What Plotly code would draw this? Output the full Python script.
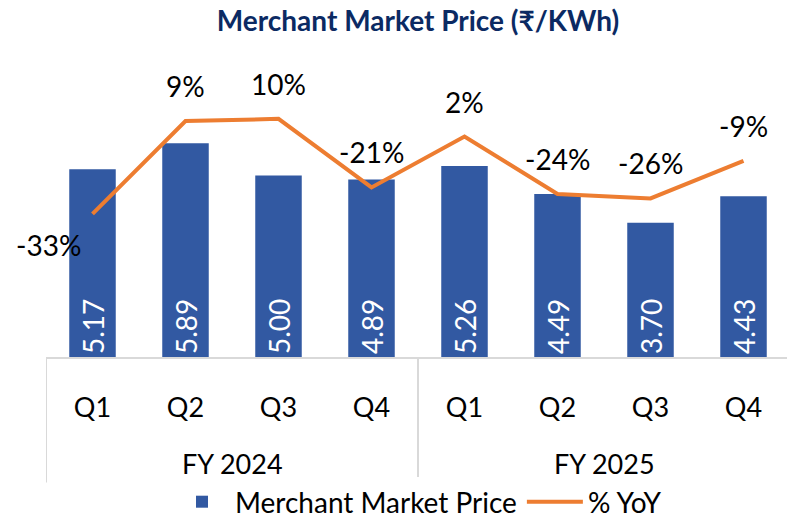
import plotly.graph_objects as go

# Data
fiscal_years = ["FY 2024", "FY 2025"]
quarters = ["Q1", "Q2", "Q3", "Q4", "Q1", "Q2", "Q3", "Q4"]
price = [5.17, 5.89, 5.00, 4.89, 5.26, 4.49, 3.70, 4.43]
yoy = [-0.33, 0.09, 0.10, -0.21, 0.02, -0.24, -0.26, -0.09]

BAR_COLOR = "#3259A2"
LINE_COLOR = "#ED7D31"
AXIS_GREY = "#D9D9D9"
FONT = "Lato, Calibri, Carlito, sans-serif"

pos = list(range(len(quarters)))

fig = go.Figure()

fig.add_trace(
    go.Bar(
        x=pos,
        y=price,
        name="Merchant Market Price",
        marker=dict(color=BAR_COLOR, line=dict(width=0)),
        text=[f"{v:.2f}" for v in price],
        textposition="inside",
        insidetextanchor="start",
        textangle=-90,
        textfont=dict(color="white", size=28, family=FONT),
        width=0.5,
    )
)

fig.add_trace(
    go.Scatter(
        x=pos,
        y=yoy,
        name="% YoY",
        mode="lines",
        line=dict(color=LINE_COLOR, width=4),
        yaxis="y2",
    )
)

# Data labels for the YoY line
for i, v in enumerate(yoy):
    first = i == 0
    fig.add_annotation(
        x=pos[i],
        y=v,
        yref="y2",
        text=f"{v * 100:.0f}%",
        showarrow=False,
        font=dict(size=28, color="black", family=FONT),
        xshift=-44 if first else 0,
        yshift=-31 if first else 35,
    )

# Fiscal year group labels and dividers
for g, fy in enumerate(fiscal_years):
    fig.add_annotation(
        x=g * 4 + 1.5,
        y=-0.345,
        xref="x",
        yref="paper",
        text=fy,
        showarrow=False,
        font=dict(size=27, color="black", family=FONT),
        yanchor="middle",
    )
for edge in [-0.5, 3.5, 7.5]:
    fig.add_shape(
        type="line",
        x0=edge,
        x1=edge,
        xref="x",
        y0=0,
        y1=-0.405,
        yref="paper",
        line=dict(color=AXIS_GREY, width=2),
    )

# page body has an 8px margin, so offsets are shifted to compensate
fig.update_layout(
    title=dict(
        text="<b>Merchant Market Price (₹/KWh)</b>",
        x=0.5,
        xref="paper",
        y=0.975,
        yanchor="middle",
        font=dict(size=28, color="#0B2A63", family=FONT),
    ),
    width=795,
    height=519,
    margin=dict(l=38, r=13, t=39, b=170),
    plot_bgcolor="white",
    paper_bgcolor="white",
    font=dict(family=FONT, size=27, color="black"),
    showlegend=True,
    legend=dict(
        orientation="h",
        x=0.5,
        xanchor="center",
        yref="container",
        y=0.0,
        yanchor="bottom",
        font=dict(size=28),
        itemwidth=56,
        tracegroupgap=0,
    ),
    xaxis=dict(
        range=[-0.5, 7.5],
        tickmode="array",
        tickvals=pos,
        ticktext=quarters,
        showline=True,
        linecolor=AXIS_GREY,
        linewidth=2,
        showgrid=False,
        zeroline=False,
        ticks="",
        ticklabelstandoff=26,
        tickfont=dict(size=27),
        automargin=False,
    ),
    yaxis=dict(range=[0, 8.54], visible=False, showgrid=False),
    yaxis2=dict(
        range=[-0.977, 0.425],
        overlaying="y",
        side="right",
        visible=False,
        showgrid=False,
    ),
)

fig.write_html("out.html")
